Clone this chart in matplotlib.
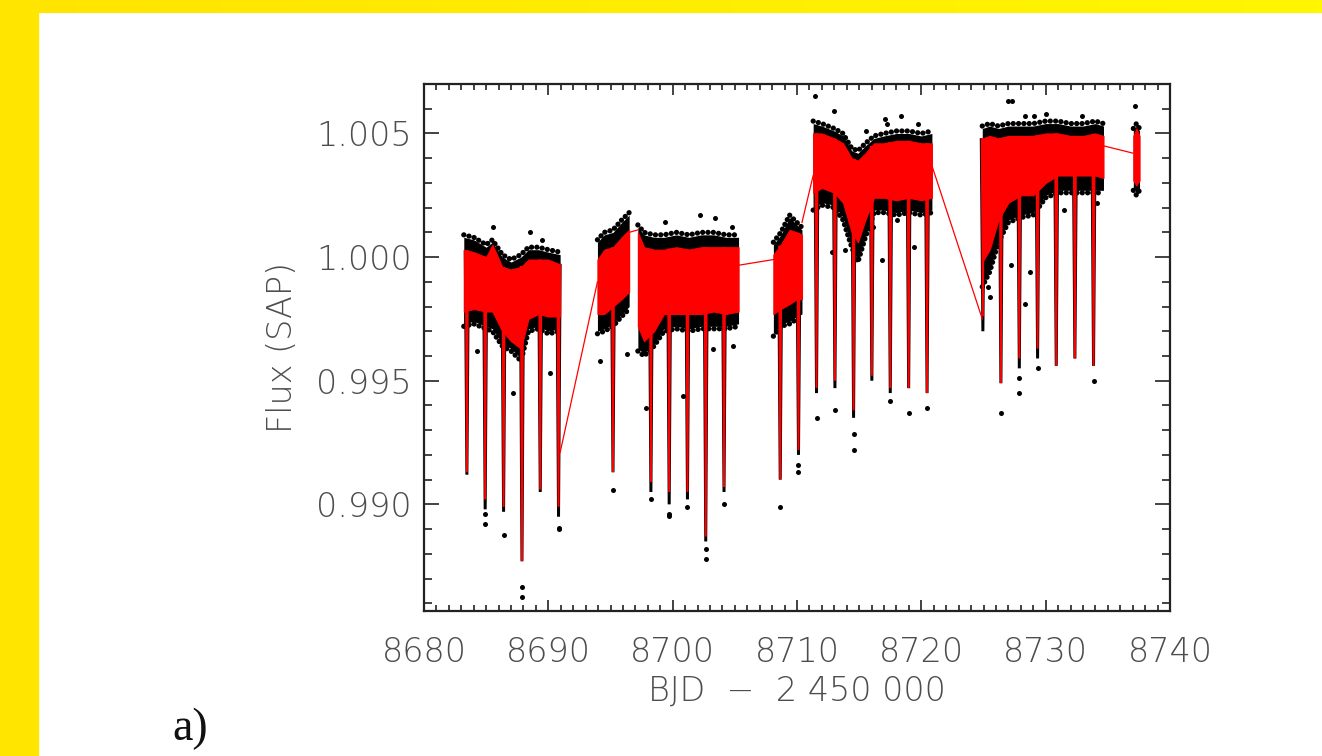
import numpy as np
import matplotlib.pyplot as plt
from matplotlib.colors import LinearSegmentedColormap
from matplotlib.patches import Rectangle

# light-curve band: knots per observing segment
band_seg = [1, 1, 1, 1, 1, 1, 1, 1, 1, 1, 1,
            2, 2, 2, 2, 2,
            3, 3, 3, 3, 3, 3, 3, 3, 3, 3,
            4, 4, 4, 4, 4,
            5, 5, 5, 5, 5, 5, 5, 5, 5, 5, 5, 5, 5,
            6, 6, 6, 6, 6, 6, 6, 6, 6, 6, 6, 6,
            7, 7, 7]
band_t = [8683.2, 8684.0, 8685.0, 8685.5, 8686.3, 8687.0, 8687.8, 8688.4, 8689.2, 8690.0, 8690.95,
          8693.95, 8694.5, 8695.2, 8695.9, 8696.5,
          8697.2, 8697.7, 8698.5, 8699.3, 8700.3, 8701.3, 8702.3, 8703.3, 8704.3, 8705.3,
          8708.1, 8708.7, 8709.4, 8710.0, 8710.4,
          8711.3, 8712.0, 8713.0, 8713.7, 8714.4, 8714.9, 8715.5, 8716.2, 8717.0, 8718.0, 8719.0, 8720.0, 8720.85,
          8724.9, 8725.5, 8726.2, 8727.0, 8728.0, 8729.0, 8730.0, 8731.0, 8732.0, 8733.0, 8734.0, 8734.65,
          8737.05, 8737.3, 8737.55]
band_black_top = [1.0009, 1.0008, 1.0005, 1.0007, 1.0001, 0.9999, 1.0001, 1.0004, 1.0004, 1.0003, 1.0002,
                  1.0007, 1.0010, 1.0011, 1.0015, 1.0018,
                  1.0013, 1.0010, 1.0009, 1.0009, 1.0010, 1.0009, 1.0010, 1.0010, 1.0009, 1.0009,
                  1.0006, 1.0010, 1.0017, 1.0014, 1.0012,
                  1.0055, 1.0054, 1.0052, 1.0050, 1.0044, 1.0043, 1.0046, 1.0049, 1.0050, 1.0051, 1.0051, 1.0050, 1.0051,
                  1.0053, 1.0054, 1.0053, 1.0054, 1.0054, 1.0054, 1.0055, 1.0055, 1.0054, 1.0054, 1.0055, 1.0054,
                  1.0052, 1.0054, 1.0052]
band_red_top = [1.0003, 1.0002, 1.0000, 1.0005, 0.9996, 0.9995, 0.9996, 0.9999, 0.9999, 0.9999, 0.9997,
                0.9999, 1.0003, 1.0004, 1.0008, 1.0011,
                1.0010, 1.0004, 1.0003, 1.0003, 1.0004, 1.0003, 1.0004, 1.0004, 1.0004, 1.0004,
                1.0001, 1.0005, 1.0011, 1.0010, 1.0009,
                1.0050, 1.0050, 1.0048, 1.0046, 1.0040, 1.0039, 1.0042, 1.0046, 1.0046, 1.0047, 1.0047, 1.0046, 1.0046,
                1.0048, 1.0049, 1.0048, 1.0049, 1.0049, 1.0049, 1.0050, 1.0050, 1.0049, 1.0049, 1.0050, 1.0049,
                1.0049, 1.0052, 1.0049]
band_red_bot = [0.9978, 0.9979, 0.9978, 0.9978, 0.9970, 0.9966, 0.9963, 0.9975, 0.9977, 0.9976, 0.9976,
                0.9977, 0.9977, 0.9980, 0.9983, 0.9986,
                0.9972, 0.9966, 0.9970, 0.9977, 0.9977, 0.9977, 0.9977, 0.9978, 0.9977, 0.9978,
                0.9977, 0.9979, 0.9981, 0.9983, 0.9983,
                1.0026, 1.0028, 1.0026, 1.0022, 1.0010, 1.0006, 1.0015, 1.0024, 1.0024, 1.0023, 1.0024, 1.0023, 1.0024,
                0.9998, 1.0003, 1.0015, 1.0022, 1.0025, 1.0025, 1.0030, 1.0033, 1.0033, 1.0033, 1.0033, 1.0032,
                1.0031, 1.0029, 1.0031]
band_black_bot = [0.9972, 0.9973, 0.9971, 0.9970, 0.9964, 0.9962, 0.9958, 0.9970, 0.9971, 0.9969, 0.9970,
                  0.9969, 0.9970, 0.9972, 0.9976, 0.9979,
                  0.9962, 0.9960, 0.9964, 0.9970, 0.9971, 0.9970, 0.9971, 0.9971, 0.9971, 0.9972,
                  0.9968, 0.9972, 0.9973, 0.9975, 0.9976,
                  1.0019, 1.0021, 1.0020, 1.0015, 1.0004, 0.9998, 1.0008, 1.0018, 1.0018, 1.0017, 1.0018, 1.0017, 1.0018,
                  0.9988, 0.9994, 1.0006, 1.0014, 1.0016, 1.0017, 1.0024, 1.0026, 1.0026, 1.0026, 1.0026, 1.0026,
                  1.0027, 1.0025, 1.0027]

# eclipse minima: time, bottom of the red model, lowest black point
ecl_t = [8683.45, 8684.92, 8686.40, 8687.88, 8689.35, 8690.82,
         8695.20,
         8698.25, 8699.72, 8701.19, 8702.66, 8704.13,
         8708.65, 8710.12,
         8711.57, 8713.05, 8714.55, 8716.02, 8717.50, 8718.98, 8720.46,
         8724.95, 8726.40, 8727.88, 8729.35, 8730.85, 8732.35, 8733.85]
ecl_red_min = [0.9913, 0.9902, 0.9899, 0.9877, 0.9906, 0.9899,
               0.9913,
               0.9909, 0.9905, 0.9905, 0.9887, 0.9907,
               0.9910, 0.9922,
               0.9947, 0.9950, 0.9938, 0.9952, 0.9947, 0.9947, 0.9945,
               0.9976, 0.9949, 0.9959, 0.9963, 0.9956, 0.9959, 0.9956]
ecl_black_min = [0.9912, 0.9898, 0.9897, 0.9877, 0.9905, 0.9895,
                 0.9913,
                 0.9905, 0.9900, 0.9902, 0.9885, 0.9905,
                 0.9910, 0.9920,
                 0.9945, 0.9947, 0.9935, 0.9950, 0.9945, 0.9947, 0.9945,
                 0.9970, 0.9949, 0.9955, 0.9959, 0.9956, 0.9959, 0.9956]

# isolated points away from the band
out_t = [8684.92, 8684.92, 8686.40, 8687.88, 8687.88, 8690.82, 8690.82, 8695.20,
         8698.25, 8699.72, 8699.72, 8701.19, 8702.66, 8702.66, 8704.13, 8708.65,
         8710.12, 8710.12, 8711.57, 8713.05, 8714.55, 8714.55, 8717.50, 8718.98,
         8720.46, 8726.40, 8727.88, 8727.88, 8729.35, 8733.85,
         8685.53, 8688.5, 8689.5, 8684.24, 8687.18, 8690.14, 8694.16, 8696.3,
         8697.86, 8700.86, 8703.27, 8704.83, 8699.39, 8702.2, 8703.4, 8704.75,
         8711.46, 8713.0, 8715.56, 8717.09, 8717.27, 8718.37, 8719.7,
         8713.87, 8712.8, 8716.15, 8716.82, 8718.03, 8719.37, 8718.96,
         8727.0, 8727.27, 8728.35, 8729.1, 8730.0, 8732.9,
         8725.53, 8725.4, 8727.2, 8728.75, 8728.35, 8731.49, 8734.1, 8737.2]
out_f = [0.9892, 0.9896, 0.98875, 0.98667, 0.98626, 0.9890, 0.98905, 0.9906,
         0.9902, 0.9896, 0.98952, 0.9899, 0.9882, 0.9878, 0.9900, 0.9899,
         0.9916, 0.9913, 0.9935, 0.9938, 0.99285, 0.9922, 0.9942, 0.9937,
         0.9939, 0.9937, 0.9951, 0.9945, 0.9955, 0.9950,
         1.0012, 1.0010, 1.0007, 0.9962, 0.9945, 0.9953, 0.9958, 0.9961,
         0.9939, 0.9944, 0.9963, 0.9964, 1.0014, 1.0017, 1.0016, 1.0012,
         1.0065, 1.0059, 1.0051, 1.0056, 1.0054, 1.0057, 1.0054,
         1.0003, 1.0002, 1.0012, 0.9999, 1.0015, 1.0004, 1.0021,
         1.0063, 1.0063, 1.0057, 1.0057, 1.0058, 1.0057,
         0.9984, 0.9988, 0.9997, 0.9994, 0.9981, 1.0019, 1.0022, 1.0061]

# red model line across the data gaps
gap_t = [8690.95, 8693.95, np.nan, 8696.5, 8697.2, np.nan, 8705.3, 8708.1, np.nan,
         8710.4, 8711.3, np.nan, 8720.85, 8724.9, np.nan, 8734.65, 8737.05]
gap_f = [0.9921, 0.9990, np.nan, 1.0010, 1.0011, np.nan, 0.99967, 0.9999, np.nan,
         1.0014, 1.0033, np.nan, 1.0037, 0.9975, np.nan, 1.0045, 1.0042]

plt.rcParams["font.family"] = ["DejaVu Sans"]
TXT = "#4d4d4d"

fig = plt.figure(figsize=(13.22, 7.56), dpi=100, facecolor="white")

# yellow slide frame
fig.patches.append(Rectangle((0, 0), 38 / 1322, 1, transform=fig.transFigure,
                             color="#FFE500", zorder=0))
top = fig.add_axes([0, 1 - 13 / 756, 1, 13 / 756])
top.imshow(np.linspace(0, 1, 256)[None, :], aspect="auto",
           cmap=LinearSegmentedColormap.from_list("y", ["#FFE400", "#FFF600"]))
top.axis("off")

ax = fig.add_axes([424 / 1322, 1 - 610.7 / 756, 746 / 1322, (610.7 - 84) / 756])

band_seg = np.array(band_seg)
t = np.array(band_t)
bt, bb = np.array(band_black_top), np.array(band_black_bot)
rt, rb = np.array(band_red_top), np.array(band_red_bot)

# eclipses: tapered black halo, then red model
mid = np.interp(ecl_t, band_t, band_red_top)
for te, m0, bmin in zip(ecl_t, mid, ecl_black_min):
    ax.fill([te - 0.25, te - 0.12, te + 0.12, te + 0.25], [m0, bmin, bmin, m0],
            color="black", lw=0, zorder=1)

dots = dict(color="black", lw=3.8, ls=(0, (0.01, 1.0)), dash_capstyle="round", zorder=2)
for s in np.unique(band_seg):
    m = band_seg == s
    ax.fill_between(t[m], bb[m] + 0.0001, bt[m] - 0.0001, color="black", lw=0, zorder=2)
    ax.plot(t[m], bt[m], **dots)
    ax.plot(t[m], bb[m], **dots)

for te, m0, rmin in zip(ecl_t, mid, ecl_red_min):
    ax.fill([te - 0.17, te - 0.08, te + 0.08, te + 0.17], [m0, rmin, rmin, m0],
            color="red", lw=0, zorder=3)

for s in np.unique(band_seg):
    m = band_seg == s
    ax.fill_between(t[m], rb[m], rt[m], color="red", lw=0.8, zorder=4)

ax.plot(gap_t, gap_f, color="red", lw=0.9, zorder=3)
ax.plot(out_t, out_f, "o", color="black", ms=3.6, mew=0, zorder=2)

ax.set_xlim(8680, 8740)
ax.set_ylim(0.9857, 1.0070)
ax.set_xticks(np.arange(8680, 8741, 10))
ax.set_xticks(np.arange(8680, 8741, 1), minor=True)
ax.set_yticks([0.990, 0.995, 1.000, 1.005])
ax.set_yticklabels(["0.990", "0.995", "1.000", "1.005"])
ax.set_yticks(np.arange(0.986, 1.0071, 0.001), minor=True)

for side in ax.spines.values():
    side.set_linewidth(1.6)
    side.set_color("#222222")
ax.tick_params(axis="both", which="both", direction="in", top=True, right=True,
               colors="#222222", labelcolor=TXT, labelsize=24, width=1.2)
ax.tick_params(axis="x", which="major", length=8, pad=18)
ax.tick_params(axis="x", which="minor", length=4.5)
ax.tick_params(axis="y", which="major", length=11, pad=9)
ax.tick_params(axis="y", which="minor", length=5.5)
for lab in ax.get_xticklabels() + ax.get_yticklabels():
    lab.set_fontweight("light")

ax.set_xlabel("BJD  \u2212  2 450 000", fontsize=24, color=TXT, labelpad=4, fontweight="light")
ax.set_ylabel("Flux (SAP)", fontsize=24, color=TXT, labelpad=12, fontweight="light")

fig.text(190 / 1322, 1 - 740 / 756, "a)", fontsize=33, family="Liberation Serif",
         ha="center", va="baseline", color="#111111")

fig.savefig("out.png", dpi=100, facecolor="white")
